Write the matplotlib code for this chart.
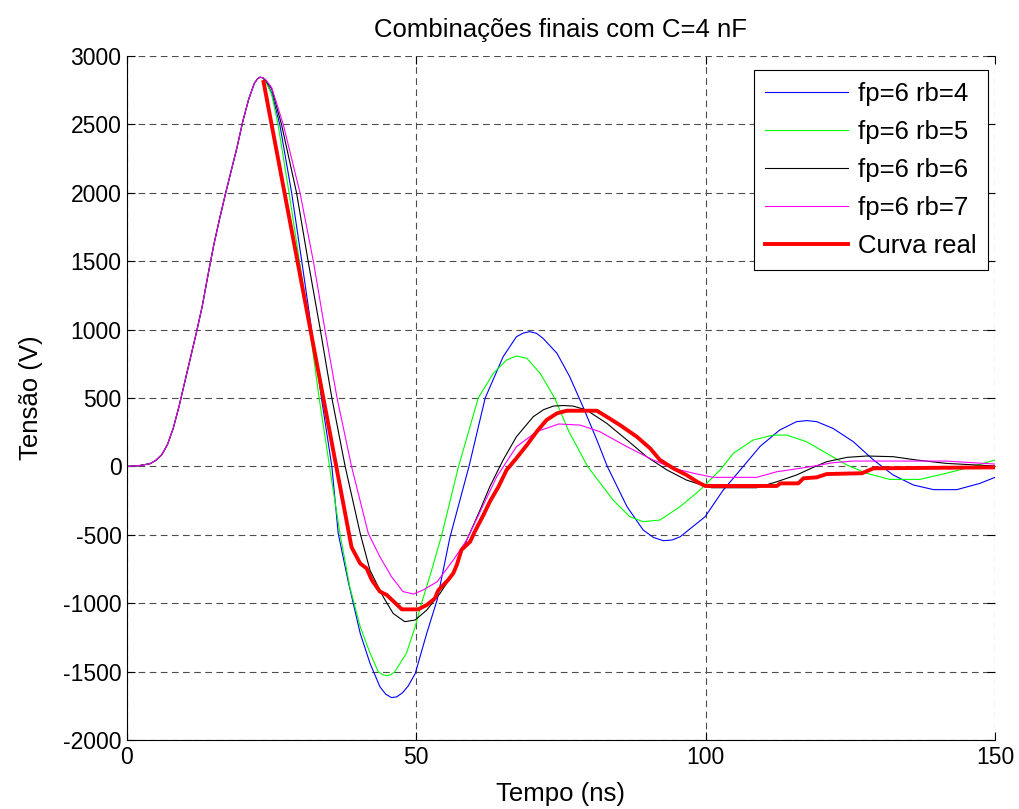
import numpy as np
import matplotlib
matplotlib.use('Agg')
import matplotlib.pyplot as plt

plt.rcParams['font.family'] = ['Liberation Sans', 'DejaVu Sans']
plt.rcParams['axes.unicode_minus'] = False

# common rising edge (all simulated curves are the same here)
t_rise = [0, 2, 4, 5, 6, 7, 8, 9, 10, 11, 12, 13, 14, 15, 16, 17, 18, 19, 20, 21, 22, 22.6, 23]
v_rise = [0, 5, 20, 45, 85, 160, 280, 440, 620, 800, 980, 1170, 1400, 1620, 1810, 1990,
          2160, 2330, 2520, 2680, 2800, 2835, 2845]

# fp=6 rb=4 (blue)
t_rb4 = [23.5, 24, 25, 26.4, 28.45, 30.2, 31.9, 33.6, 35.4, 36.5, 38.3, 40.3, 42.0, 43.7,
         44.7, 45.7, 46.6, 47.6, 48.6, 49.8, 51.8, 53.6, 55.8, 59.1, 61.9, 65.0, 67.3, 68.5,
         69.6, 70.8, 71.9, 74.3, 76.5, 78.8, 81.2, 83.0, 86.4, 89.2, 91.0, 92.7, 94.2, 95.6,
         99.9, 103.0, 106.5, 109.4, 112.8, 115.7, 117.5, 119.2, 122.0, 125.5, 129.0, 132.4,
         135.9, 139.4, 143.4, 147.4, 150]
v_rb4 = [2840, 2815, 2730, 2500, 2000, 1500, 1000, 500, 0, -490, -855, -1220, -1440, -1610,
         -1665, -1690, -1685, -1655, -1605, -1515, -1220, -975, -520, 0, 500, 802, 948, 975,
         985, 972, 936, 827, 656, 436, 193, 0, -294, -465, -520, -543, -538, -514,
         -368, -175, 0, 146, 266, 327, 335, 327, 278, 181, 47, -63,
         -136, -170, -170, -124, -80]

# fp=6 rb=5 (green)
t_rb5 = [23.5, 24, 25, 26.1, 28.0, 29.8, 31.6, 33.2, 35.0, 36.8, 38.5, 40.3, 42.0, 43.4,
         44.2, 44.9, 45.6, 46.3, 48.3, 49.8, 50.9, 52.5, 54.4, 57.3, 59.0, 60.7, 63.3, 65.6,
         67.3, 69.1, 71.4, 73.9, 76.3, 79.6, 81.2, 84.0, 86.9, 89.2, 92.1, 95.6, 99.0, 102.5,
         104.8, 108.2, 111.7, 114.0, 117.4, 120.9, 124.4, 127.8, 131.8, 137.0, 141.6, 146.2, 150]
v_rb5 = [2838, 2810, 2720, 2500, 2000, 1500, 1000, 500, 0, -490, -880, -1172, -1365, -1500,
         -1522, -1530, -1522, -1500, -1365, -1172, -1000, -780, -500, 0, 250, 500, 680, 778,
         807, 790, 680, 500, 260, 0, -90, -246, -368, -404, -392, -294, -173, -26,
         96, 193, 229, 229, 181, 96, 10, -50, -95, -95, -50, 0, 47]

# fp=6 rb=6 (black)
t_rb6 = [23.5, 24, 25, 26.7, 29.3, 31.3, 33.4, 35.4, 37.7, 40.3, 42.0, 44.3, 46.0, 48.0,
         49.8, 51.8, 54.1, 56.4, 58.7, 61.0, 62.7, 65.0, 67.3, 70.2, 72.0, 73.7, 75.4, 77.1,
         79.4, 82.9, 86.4, 89.8, 93.3, 96.7, 99.6, 101.0, 108.8, 112.3, 115.7, 118.6, 120.9,
         124.4, 127.8, 132.4, 136.4, 141.6, 150]
v_rb6 = [2840, 2820, 2760, 2500, 2000, 1500, 1000, 500, 0, -490, -760, -955, -1075, -1135,
         -1123, -1050, -928, -780, -540, -320, -148, 47, 217, 363, 415, 441, 445, 441,
         412, 315, 193, 71, -26, -100, -140, -156, -156, -112, -63, -7, 34,
         66, 76, 71, 47, 22, 3]

# fp=6 rb=7 (magenta)
t_rb7 = [23.5, 24, 25, 27.0, 29.9, 32.2, 34.2, 36.3, 38.8, 41.7, 43.7, 45.7, 47.7, 49.5,
         51.2, 53.6, 56.4, 58.7, 60.4, 63.9, 67.3, 70.8, 74.6, 78.3, 81.7, 86.4, 90.9, 94.4,
         97.9, 101.3, 108.8, 112.3, 117.4, 122.0, 125.5, 141.6, 150]
v_rb7 = [2842, 2825, 2770, 2500, 2000, 1500, 1000, 500, 0, -490, -660, -806, -915, -933,
         -903, -843, -684, -538, -387, -75, 144, 254, 310, 302, 254, 144, 47, -14,
         -50, -80, -80, -39, -7, 27, 39, 39, 17]

# measured curve (red)
t_real = [23.6, 38.8, 40.3, 41.4, 42.3, 43.7, 44.9, 47.5, 50.3, 51.8, 53.2, 53.8, 55.5, 56.4,
          57.0, 57.8, 59.3, 60.1, 61.6, 62.7, 64.2, 65.6, 67.3, 69.1, 70.8, 72.5, 74.3, 76.0,
          81.2, 82.9, 85.2, 88.1, 90.4, 92.1, 94.4, 96.7, 98.5, 99.9, 112.3, 112.9, 116.0,
          116.9, 119.2, 120.9, 127.0, 129.0, 150]
v_real = [2810, -590, -710, -745, -830, -915, -940, -1045, -1045, -1013, -965, -905, -830, -780,
          -720, -610, -550, -477, -355, -258, -148, -26, 60, 156, 254, 339, 388, 407,
          407, 363, 302, 217, 132, 47, -14, -63, -112, -143, -143, -124, -124,
          -87, -80, -56, -50, -14, -7]

fig = plt.figure(figsize=(10.2, 8.09), dpi=100)
ax = fig.add_axes([127/1020, 1-740/809, 868/1020, 684/809])

ax.plot(t_rise + t_rb4, v_rise + v_rb4, color=(0, 0, 1), lw=0.8, label='fp=6 rb=4')
ax.plot(t_rise + t_rb5, v_rise + v_rb5, color=(0, 1, 0), lw=0.8, label='fp=6 rb=5')
ax.plot(t_rise + t_rb6, v_rise + v_rb6, color='black', lw=0.8, label='fp=6 rb=6')
ax.plot(t_rise + t_rb7, v_rise + v_rb7, color=(1, 0, 1), lw=0.8, label='fp=6 rb=7')
ax.plot(t_real, v_real, color='red', lw=2.8, label='Curva real')

ax.set_xlim(0, 150)
ax.set_ylim(-2000, 3000)
ax.set_xticks([0, 50, 100, 150])
ax.set_yticks(np.arange(-2000, 3001, 500))
ax.grid(True, color='0.3', lw=0.8, linestyle=(0, (6, 4)))
ax.spines['top'].set_visible(False)
ax.spines['right'].set_visible(False)
ax.tick_params(direction='in', length=6, top=True, right=True, labelsize=16.5, pad=4)

ax.set_title('Combinações finais com C=4 nF', fontsize=18.5, pad=14)
ax.set_xlabel('Tempo (ns)', fontsize=18.5, labelpad=10)
ax.set_ylabel('Tensão (V)', fontsize=18.5, labelpad=14)

leg = ax.legend(loc='upper right', bbox_to_anchor=(988/1020, 1-70/809),
                bbox_transform=fig.transFigure, borderaxespad=0, fontsize=18.5,
                fancybox=False, framealpha=1, edgecolor='black', handlelength=3.2,
                handletextpad=0.4, labelspacing=0.55, borderpad=0.45)
leg.get_frame().set_linewidth(0.8)

fig.savefig('out.png', dpi=100)
